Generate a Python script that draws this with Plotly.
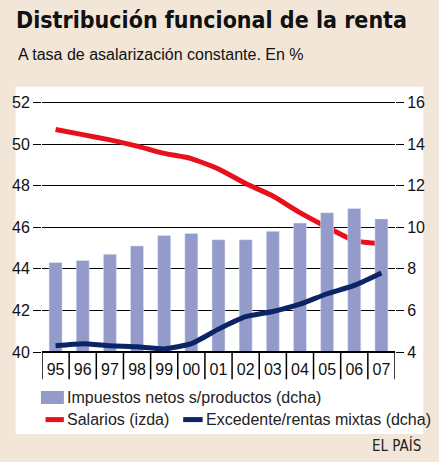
import plotly.graph_objects as go

years = ["95","96","97","98","99","00","01","02","03","04","05","06","07"]
impuestos = [8.3,8.4,8.7,9.1,9.6,9.7,9.4,9.4,9.8,10.2,10.7,10.9,10.4]
salarios = [50.7,50.45,50.2,49.9,49.55,49.3,48.8,48.1,47.5,46.7,46.0,45.35,45.2]
excedente = [4.3,4.4,4.3,4.25,4.15,4.4,5.1,5.7,5.95,6.3,6.8,7.2,7.8]
left_ticks = [40,42,44,46,48,50,52]
right_ticks = [4,6,8,10,12,14,16]

F = "Liberation Sans"
TF = "DejaVu Sans Condensed"
fig = go.Figure()
fig.add_trace(go.Bar(x=years, y=impuestos, yaxis="y2", marker_color="#949bcb", width=0.48, base=0, showlegend=False))
fig.add_trace(go.Scatter(x=years, y=salarios, mode="lines", line=dict(color="#e8101a", width=5, shape="spline", smoothing=0.5),
                         showlegend=False))
fig.add_trace(go.Scatter(x=years, y=excedente, yaxis="y2", mode="lines",
                         line=dict(color="#0b2466", width=5, shape="spline", smoothing=0.5), showlegend=False))

shapes = [
    dict(type="rect", xref="paper", yref="paper", x0=-0.075, x1=1.08, y0=-0.315, y1=1.02,
         fillcolor="white", line_width=0, layer="below"),
]
for i in range(14):
    shapes.append(dict(type="line", xref="x", yref="paper", x0=i-0.5, x1=i-0.5, y0=0, y1=-0.105,
                       line=dict(color="black", width=1.5)))
shapes.append(dict(type="line", xref="paper", yref="paper", x0=0, x1=1, y0=0, y1=0, line=dict(color="black", width=2)))
shapes += [
    dict(type="rect", xref="paper", yref="paper", x0=-0.003, x1=0.062, y0=-0.20, y1=-0.15, fillcolor="#949bcb", line_width=0),
    dict(type="line", xref="paper", yref="paper", x0=0.01, x1=0.062, y0=-0.26, y1=-0.26, line=dict(color="#e8101a", width=5)),
    dict(type="line", xref="paper", yref="paper", x0=0.40, x1=0.455, y0=-0.26, y1=-0.26, line=dict(color="#0b2466", width=5)),
]
annotations = [
    dict(text="Impuestos netos s/productos (dcha)", x=0.065, y=-0.175),
    dict(text="Salarios (izda)", x=0.065, y=-0.26),
    dict(text="Excedente/rentas mixtas (dcha)", x=0.458, y=-0.26),
]
anns = [dict(a, xref="paper", yref="paper", xanchor="left", yanchor="middle", showarrow=False,
             font=dict(family=F, size=16, color="#222")) for a in annotations]
anns.append(dict(text="EL PAÍS", xref="paper", yref="paper", x=1.08, y=-0.36, xanchor="right", yanchor="middle",
                 showarrow=False, font=dict(family=TF, size=15, color="#222")))
anns.append(dict(text="<b>Distribución funcional de la renta</b>", xref="paper", yref="paper",
                 x=-0.078, y=1.335, xanchor="left", yanchor="top", showarrow=False,
                 font=dict(family=TF, size=23, color="#111")))
anns.append(dict(text="A tasa de asalarización constante. En %", xref="paper", yref="paper",
                 x=-0.075, y=1.185, xanchor="left", yanchor="top", showarrow=False,
                 font=dict(family=F, size=16, color="#111")))

fig.update_layout(
    width=439, height=462, paper_bgcolor="#f2e6d8", plot_bgcolor="white",
    margin=dict(l=37, r=44, t=92, b=110),
    xaxis=dict(type="category", tickfont=dict(family=F, size=16, color="#111"), ticks="", showgrid=False,
               range=[-0.5, 12.5], ticklabelstandoff=6),
    yaxis=dict(range=[40, 52.5], tickvals=left_ticks, showgrid=True, gridcolor="black", gridwidth=1,
               ticks="outside", ticklen=8, tickcolor="black", zeroline=False,
               tickfont=dict(family=F, size=16, color="#111")),
    yaxis2=dict(range=[4, 16.5], tickvals=right_ticks, overlaying="y", side="right", showgrid=False,
                ticks="outside", ticklen=8, tickcolor="black", zeroline=False,
                tickfont=dict(family=F, size=16, color="#111")),
    shapes=shapes, annotations=anns, bargap=0.5,
)
fig.write_html("out.html", config={"displayModeBar": False}, post_script="document.body.style.margin='0';")
